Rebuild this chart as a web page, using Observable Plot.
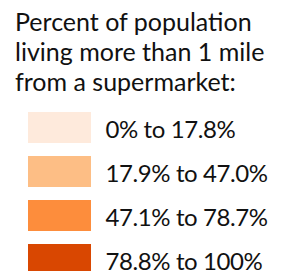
<!DOCTYPE html>
<html>
<head>
<meta charset="utf-8">
<script src="https://cdn.jsdelivr.net/npm/d3@7"></script>
<script src="https://cdn.jsdelivr.net/npm/@observablehq/plot@0.6"></script>
<style>
  html, body { margin: 0; padding: 0; background: #fff; overflow: hidden; }
  #title { font-family: Lato, "Open Sans", sans-serif; font-size: 25px; line-height: 30px; color: #111; padding: 6px 0 0 15px; height: 91px; white-space: nowrap; }
  svg { display: block; }
</style>
</head>
<body>
<div id="title"></div>
<div id="chart"></div>
<script>
const titleLines = ["Percent of population", "living more than 1 mile", "from a supermarket:"];
const classLabels = ["0% to 17.8%", "17.9% to 47.0%", "47.1% to 78.7%", "78.8% to 100%"];
const classColors = ["#feeadc", "#fdbe85", "#fd8d3c", "#d94701"];

document.getElementById("title").innerHTML = titleLines.join("<br>");

const rows = classLabels.map((label, i) => ({label, color: classColors[i], key: "swatch"}));

const chart = Plot.plot({
  width: 285,
  height: 174,
  margin: 0,
  style: {fontFamily: "Lato, 'Open Sans', sans-serif", background: "transparent"},
  x: {type: "band", domain: ["swatch"], range: [28, 91], padding: 0, axis: null},
  y: {type: "band", domain: classLabels, range: [7.4, 184.6], paddingInner: 0.3, paddingOuter: 0.15, axis: null},
  marks: [
    Plot.cell(rows, {x: "key", y: "label", fill: "color"}),
    Plot.text(rows, {x: "key", y: "label", text: "label", textAnchor: "start", dx: 45.5, dy: 2, fontSize: 24, fill: "#111", style: "letter-spacing:-0.4px"})
  ]
});
chart.querySelectorAll("text").forEach(t => t.setAttribute("letter-spacing", "-0.4"));
document.getElementById("chart").append(chart);
</script>
</body>
</html>
